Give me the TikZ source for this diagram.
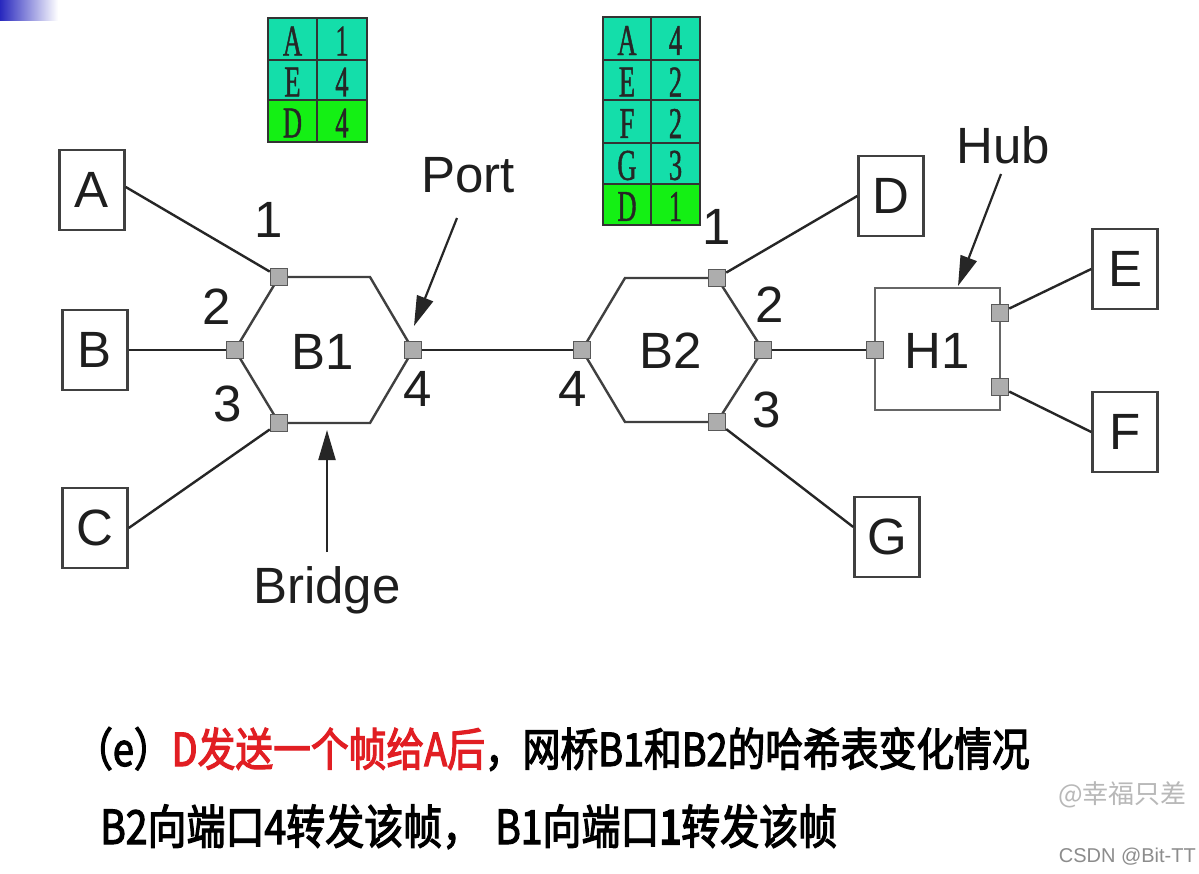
\documentclass[tikz,border=0pt]{standalone}
\usepackage{fontspec}
\setmainfont{Liberation Sans}
\newfontfamily\tabfont[FakeStretch=0.6,FakeBold=1]{Liberation Serif}
\newfontfamily\cjk[FakeStretch=0.83,FakeBold=2.5]{Noto Sans CJK SC}
\newfontfamily\cjkb[FakeStretch=0.83,FakeBold=5]{Noto Sans CJK SC}
\newfontfamily\wmfont{Noto Sans CJK SC}
\usetikzlibrary{arrows.meta}
\definecolor{tealc}{RGB}{20,222,170}
\definecolor{limec}{RGB}{20,240,20}
\definecolor{redc}{RGB}{225,30,35}
\definecolor{inkc}{RGB}{30,30,30}
\tikzset{
  big/.style={font=\fontsize{51}{56}\selectfont, text=inkc},
  hostbox/.style={draw=black!75, line width=2.5pt, fill=white, minimum width=65pt, minimum height=80pt, inner sep=0pt, big},
  portsq/.style={draw=black!65, line width=1.5pt, fill=black!32, minimum size=17pt, inner sep=0pt},
  hexline/.style={draw=black!75, line width=2.4pt},
  link/.style={draw=black!85, line width=2.4pt},
  arr/.style={draw=black!85, line width=2.2pt, -{Triangle[length=30pt,width=17pt]}},
  tabtxt/.style={font=\tabfont\fontsize{44}{44}\selectfont, text=black!85, inner sep=0pt},
  lbl/.style={big, inner sep=0pt},
  cn/.style={font=\cjk\fontsize{45.5}{50}\selectfont, inner sep=0pt, anchor=base west},
  cn2/.style={font=\cjk\fontsize{47}{50}\selectfont, inner sep=0pt, anchor=base west},
}
\begin{document}
\begin{tikzpicture}[x=1pt,y=-1pt]
\useasboundingbox (0,0) rectangle (1199,873);
\fill[white] (0,0) rectangle (1199,873);
\shade[left color={rgb,255:red,40;green,40;blue,190}, right color=white] (0,0) rectangle (58,20);

% tables
\foreach [count=\i] \k/\v/\ya/\yb/\c in {A/1/18/60/tealc, E/4/60/100/tealc, D/4/100/142/limec}{
  \filldraw[fill=\c, draw=black!80, line width=1.8pt] (268,\ya) rectangle (367,\yb);
  \draw[black!80, line width=1.8pt] (317,\ya) -- (317,\yb);
  \node[tabtxt] (ta\i) at (292.5,{(\ya+\yb)/2+2}) {\k};
  \node[tabtxt] (tb\i) at (342,{(\ya+\yb)/2+2}) {\v};
}
\foreach [count=\i] \k/\v/\ya/\yb/\c in {A/4/17/60/tealc, E/2/60/100/tealc, F/2/100/143/tealc, G/3/143/184/tealc, D/1/184/225/limec}{
  \filldraw[fill=\c, draw=black!80, line width=1.8pt] (603,\ya) rectangle (700,\yb);
  \draw[black!80, line width=1.8pt] (651,\ya) -- (651,\yb);
  \node[tabtxt] (tc\i) at (627,{(\ya+\yb)/2+2}) {\k};
  \node[tabtxt] (td\i) at (675.5,{(\ya+\yb)/2+2}) {\v};
}

% hexagons
\draw[hexline] (279,277) -- (370,277) -- (413,350) -- (370,423) -- (279,423) -- (235,350) -- cycle;
\draw[hexline] (625,278) -- (717,278) -- (763,350) -- (717,422) -- (625,422) -- (582,350) -- cycle;
\node[lbl] (B1) at (323,352) {B1};
\node[lbl] (B2) at (671,351) {B2};

% hub
\node[draw=black!60, line width=2.2pt, minimum width=125pt, minimum height=122pt, inner sep=0pt] (H1) at (937.5,349) {};
\node[lbl] (H1t) at (937,351) {H1};

% hosts
\node[hostbox] (A) at (92,190) {A};
\node[hostbox] (B) at (95,350) {B};
\node[hostbox] (C) at (95,528) {C};
\node[hostbox] (D) at (891,196) {D};
\node[hostbox] (E) at (1125,269) {E};
\node[hostbox] (F) at (1125,432) {F};
\node[hostbox] (G) at (887,537) {G};

% ports
\node[portsq] (p1) at (279,277) {};
\node[portsq] (p2) at (235,350) {};
\node[portsq] (p3) at (279,423) {};
\node[portsq] (p4) at (413,350) {};
\node[portsq] (q1) at (717,278) {};
\node[portsq] (q2) at (763,350) {};
\node[portsq] (q3) at (717,422) {};
\node[portsq] (q4) at (582,350) {};
\node[portsq] (h0) at (875,350) {};
\node[portsq] (hE) at (1000,313) {};
\node[portsq] (hF) at (1000,387) {};

% links
\draw[link] ([yshift=3pt]A.east) -- (p1);
\draw[link] (B.east) -- (p2);
\draw[link] (C.east) -- (p3);
\draw[link] (p4) -- (q4);
\draw[link] (q1) -- (D.west);
\draw[link] (q2) -- (h0);
\draw[link] (q3) -- ([yshift=10pt]G.west);
\draw[link] (hE) -- (E.west);
\draw[link] (hF) -- (F.west);

% port numbers
\node[lbl] (n11) at (269,220) {1};
\node[lbl] (n12) at (217,307) {2};
\node[lbl] (n13) at (228,404) {3};
\node[lbl] (n14) at (418,389) {4};
\node[lbl] (n21) at (717,227) {1};
\node[lbl] (n22) at (770,305) {2};
\node[lbl] (n23) at (767,410) {3};
\node[lbl] (n24) at (573,389) {4};

% callouts
\node[lbl] (port) at (468,175) {Port};
\coordinate (portS) at (457,218);
\coordinate (portT) at (414,326);
\draw[arr] (portS) -- (portT);
\node[lbl] (bridge) at (327,590) {Bridge};
\coordinate (brS) at (327,552);
\coordinate (brT) at (327,430);
\draw[arr] (brS) -- (brT);
\node[lbl] (hub) at (1003,145) {Hub};
\coordinate (hubS) at (1001,174);
\coordinate (hubT) at (958,286);
\draw[arr] (hubS) -- (hubT);

% caption
\node[cn] (cap1) at (75,766) {（e）\textcolor{redc}{D发送一个帧给A后}，网桥B1和B2的哈希表变化情况};
\node[cn2] (cap2) at (100,844) {B2向端口4转发该帧，\hspace{14pt}B1向端口{\cjkb 1}转发该帧};

% watermarks
\node[font=\wmfont\fontsize{26}{28}\selectfont, text=black!28, anchor=base west, inner sep=0pt] (wm1) at (1058,803) {@幸福只差};
\node[font=\fontsize{20}{22}\selectfont, text=black!45, anchor=base east, inner sep=0pt] (wm2) at (1196,862) {CSDN @Bit-TT};
\end{tikzpicture}
\end{document}
